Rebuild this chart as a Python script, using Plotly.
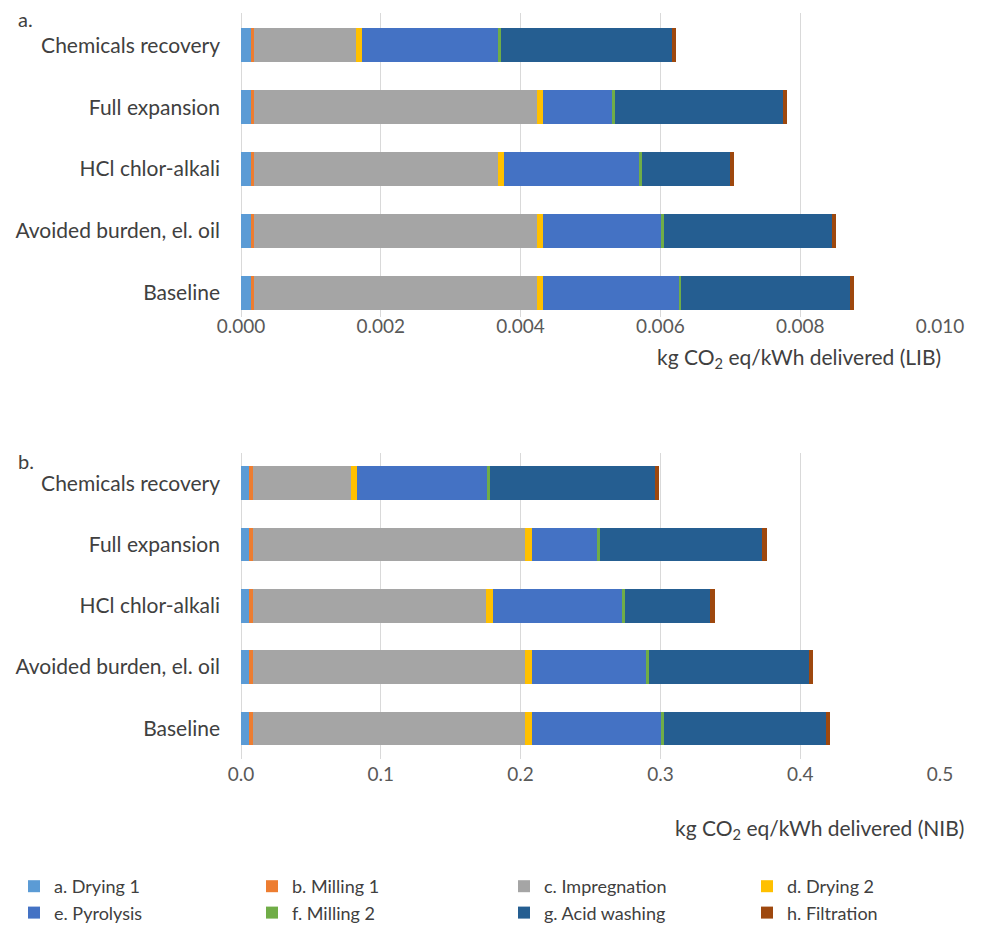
import plotly.graph_objects as go

# Scenario names, listed top to bottom
scenarios = ["Chemicals recovery", "Full expansion", "HCl chlor-alkali",
             "Avoided burden, el. oil", "Baseline"]

# Process steps and their colours
steps = ["a. Drying 1", "b. Milling 1", "c. Impregnation", "d. Drying 2",
         "e. Pyrolysis", "f. Milling 2", "g. Acid washing", "h. Filtration"]
step_colors = ["#5B9BD5", "#ED7D31", "#A5A5A5", "#FFC000",
               "#4472C4", "#70AD47", "#255E91", "#9E480E"]

# a. LIB, kg CO2 eq/kWh delivered
lib_drying1 = [0.00014, 0.00014, 0.00014, 0.00014, 0.00014]
lib_milling1 = [0.00005, 0.00005, 0.00005, 0.00005, 0.00005]
lib_impregnation = [0.00145, 0.00404, 0.00348, 0.00404, 0.00404]
lib_drying2 = [0.00009, 0.00009, 0.00009, 0.00009, 0.00009]
lib_pyrolysis = [0.00195, 0.00099, 0.00193, 0.00169, 0.00194]
lib_milling2 = [0.00004, 0.00004, 0.00004, 0.00004, 0.00004]
lib_acid_washing = [0.00245, 0.00240, 0.00126, 0.00240, 0.00241]
lib_filtration = [0.00006, 0.00006, 0.00006, 0.00006, 0.00006]

# b. NIB, kg CO2 eq/kWh delivered
nib_drying1 = [0.0057, 0.0057, 0.0057, 0.0057, 0.0057]
nib_milling1 = [0.0029, 0.0029, 0.0029, 0.0029, 0.0029]
nib_impregnation = [0.0701, 0.1947, 0.1670, 0.1947, 0.1947]
nib_drying2 = [0.0043, 0.0045, 0.0046, 0.0045, 0.0045]
nib_pyrolysis = [0.0929, 0.0472, 0.0925, 0.0816, 0.0928]
nib_milling2 = [0.0021, 0.0021, 0.0021, 0.0021, 0.0021]
nib_acid_washing = [0.1181, 0.1158, 0.0608, 0.1148, 0.1159]
nib_filtration = [0.0030, 0.0030, 0.0033, 0.0031, 0.0025]

lib_series = [lib_drying1, lib_milling1, lib_impregnation, lib_drying2,
              lib_pyrolysis, lib_milling2, lib_acid_washing, lib_filtration]
nib_series = [nib_drying1, nib_milling1, nib_impregnation, nib_drying2,
              nib_pyrolysis, nib_milling2, nib_acid_washing, nib_filtration]

# Tick values for the two value axes
lib_ticks = [0.000, 0.002, 0.004, 0.006, 0.008, 0.010]
nib_ticks = [0.0, 0.1, 0.2, 0.3, 0.4, 0.5]

W, H = 983, 936
FONT = "Lato"
TEXT = "#404040"
GRID = "#D9D9D9"


def px_x(p):
    return p / W


def px_y(p):
    return 1 - p / H


# The legend is laid out as four columns of two entries each
legend_ids = ["legend", "legend2", "legend3", "legend4"]
legend_left = [14, 252, 504, 747]

fig = go.Figure()

for i, (name, color, lib_vals, nib_vals) in enumerate(
        zip(steps, step_colors, lib_series, nib_series)):
    fig.add_trace(go.Bar(
        x=lib_vals, y=scenarios, orientation="h", name=name,
        marker=dict(color=color, line=dict(width=0)),
        legendgroup=name, showlegend=True, legend=legend_ids[i % 4],
        xaxis="x", yaxis="y",
    ))
    fig.add_trace(go.Bar(
        x=nib_vals, y=scenarios, orientation="h", name=name,
        marker=dict(color=color, line=dict(width=0)),
        legendgroup=name, showlegend=False, xaxis="x2", yaxis="y2",
    ))

x_dom = [px_x(241), px_x(940)]

common_x = dict(
    showgrid=True, gridcolor=GRID, gridwidth=1,
    zeroline=True, zerolinecolor=GRID, zerolinewidth=1,
    showline=False, ticks="", automargin=False,
    tickfont=dict(family=FONT, size=19, color="#595959"),
    fixedrange=True,
)
common_y = dict(
    type="category", categoryorder="array", categoryarray=scenarios,
    showgrid=False, zeroline=False, showline=False,
    ticks="", ticklabelstandoff=20, automargin=False,
    tickfont=dict(family=FONT, size=21, color=TEXT),
    fixedrange=True,
)

legend_style = dict(
    orientation="v", xanchor="left", yanchor="top", traceorder="normal",
    font=dict(family=FONT, size=18, color=TEXT), tracegroupgap=0,
    itemclick=False, itemdoubleclick=False, bgcolor="rgba(0,0,0,0)",
)
legends = {
    lid: dict(x=px_x(left), y=px_y(868), **legend_style)
    for lid, left in zip(legend_ids, legend_left)
}

fig.update_layout(
    width=W, height=H,
    margin=dict(l=0, r=0, t=0, b=0, autoexpand=False),
    paper_bgcolor="white", plot_bgcolor="white",
    barmode="stack", bargap=0.45,
    font=dict(family=FONT, color=TEXT),
    xaxis=dict(domain=x_dom, anchor="y", range=[0, 0.010],
               tickvals=lib_ticks, tickformat=".3f",
               ticklabelstandoff=-4, **common_x),
    yaxis=dict(domain=[px_y(317), px_y(13)], anchor="x",
               range=[4.393, -0.523], **common_y),
    xaxis2=dict(domain=x_dom, anchor="y2", range=[0, 0.5],
                tickvals=nib_ticks, tickformat=".1f",
                ticklabelstandoff=2, **common_x),
    yaxis2=dict(domain=[px_y(759), px_y(452.6)], anchor="x2",
                range=[4.5, -0.5], **common_y),
    annotations=[
        dict(text="a.", x=px_x(16), y=px_y(19), xref="paper", yref="paper",
             xanchor="left", yanchor="middle", showarrow=False,
             font=dict(family=FONT, size=20, color=TEXT)),
        dict(text="b.", x=px_x(16), y=px_y(461), xref="paper", yref="paper",
             xanchor="left", yanchor="middle", showarrow=False,
             font=dict(family=FONT, size=20, color=TEXT)),
        dict(text="kg CO<sub>2</sub> eq/kWh delivered (LIB)",
             x=px_x(943), y=px_y(358), xref="paper", yref="paper",
             xanchor="right", yanchor="middle", showarrow=False,
             font=dict(family=FONT, size=21, color=TEXT)),
        dict(text="kg CO<sub>2</sub> eq/kWh delivered (NIB)",
             x=px_x(966), y=px_y(829), xref="paper", yref="paper",
             xanchor="right", yanchor="middle", showarrow=False,
             font=dict(family=FONT, size=21, color=TEXT)),
    ],
    **legends,
)

fig.write_html("out.html")
